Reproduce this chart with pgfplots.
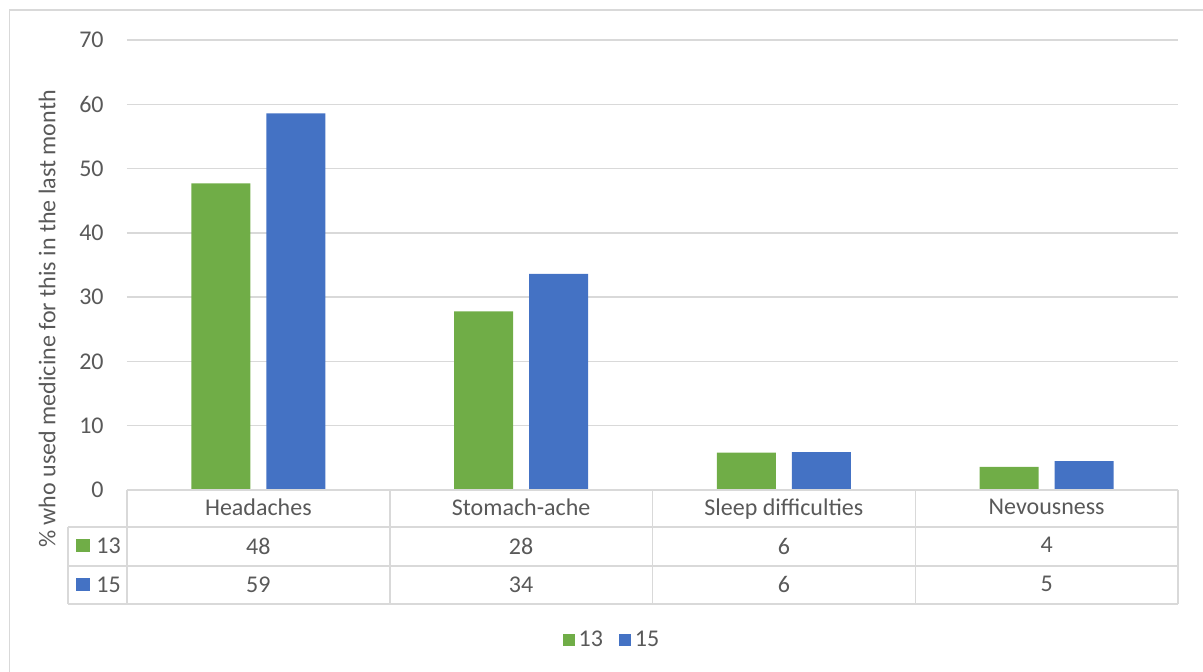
\documentclass[border=0pt]{standalone}
\usepackage{pgfplots}
\usepackage{pgfplotstable}
\pgfplotsset{compat=1.18}
\usepackage{fontspec}
\setmainfont{Carlito}

\definecolor{gA}{HTML}{70AD47}
\definecolor{bB}{HTML}{4472C4}
\definecolor{gridc}{HTML}{D9D9D9}
\definecolor{txt}{HTML}{595959}

% share of pupils (%) who used medicine for each complaint in the last month
\pgfplotstableread{
x name                   a     b
0 Headaches              47.7  58.6
1 Stomach-ache           27.8  33.6
2 {Sleep difficulties}   5.8   5.9
3 Nevousness             3.6   4.5
}\data

\begin{document}
\begin{tikzpicture}[font=\fontsize{12}{13.5}\selectfont, text=txt]
\path[use as bounding box] (-63.5pt,-91pt) rectangle (538pt,245pt);
\begin{axis}[
  scale only axis,
  width=525.5pt, height=225pt,
  xmin=-0.5, xmax=3.5,
  ymin=0, ymax=70,
  ytick={0,10,...,70},
  xtick=data,
  ybar=8pt, bar width=29.5pt,
  axis line style={draw=none},
  major tick length=0pt,
  ymajorgrids, grid style={gridc, line width=0.75pt},
  /pgf/number format/assume math mode=true,
  yticklabel style={anchor=east, inner sep=0pt, xshift=-11.5pt, font=\fontsize{12}{13.5}\selectfont, text=txt},
  xticklabel style={anchor=north, inner sep=0pt, yshift=-4.3pt, align=center,
    font=\fontsize{12}{19.25}\selectfont, text=txt},
  xticklabel={%
    \pgfplotstablegetelem{\ticknum}{name}\of\data\pgfplotsretval\\
    \pgfplotstablegetelem{\ticknum}{a}\of\data\pgfmathprintnumber[fixed,precision=0]{\pgfplotsretval}\\
    \pgfplotstablegetelem{\ticknum}{b}\of\data\pgfmathprintnumber[fixed,precision=0]{\pgfplotsretval}},
  ylabel={\% who used medicine for this in the last month},
  ylabel style={at={(axis description cs:-0.0761,0.38)}, anchor=center, font=\fontsize{12}{13.5}\selectfont, text=txt},
  legend columns=2,
  legend style={at={(0.4624,-0.333)}, anchor=center, draw=none, fill=none,
    font=\fontsize{12}{13.5}\selectfont, text=txt,
    /tikz/every even column/.append style={column sep=6pt}},
  legend image code/.code={\fill[#1] (0pt,-3pt) rectangle (6pt,3pt);},
  clip=false,
]
\addplot[fill=gA, draw=none] table[x=x, y=a] {\data};
\addplot[fill=bB, draw=none] table[x=x, y=b] {\data};
\legend{13,15}
\end{axis}

% data table grid below the plot area
\begin{scope}[gridc, line width=0.75pt]
  \draw (0,0) -- (525.5pt,0);
  \draw (-29.5pt,-18.5pt) -- (525.5pt,-18.5pt);
  \draw (-29.5pt,-38pt) -- (525.5pt,-38pt);
  \draw (-29.5pt,-57pt) -- (525.5pt,-57pt);
  \draw (-29.5pt,-18.5pt) -- (-29.5pt,-57pt);
  \foreach \xx in {0,131.375,262.75,394.125,525.5}
    \draw (\xx pt,0) -- (\xx pt,-57pt);
\end{scope}

% series keys in the table rows
\fill[gA] (-25.5pt,-31.25pt) rectangle (-18.5pt,-24.75pt);
\node[anchor=west, inner sep=0pt] at (-15.5pt,-28pt) {13};
\fill[bB] (-25.5pt,-50.75pt) rectangle (-18.5pt,-44.25pt);
\node[anchor=west, inner sep=0pt] at (-15.5pt,-47.5pt) {15};

% chart frame
\draw[gridc, line width=0.75pt] (-58.75pt,-100pt) -- (-58.75pt,240pt) -- (560pt,240pt);
\end{tikzpicture}
\end{document}
